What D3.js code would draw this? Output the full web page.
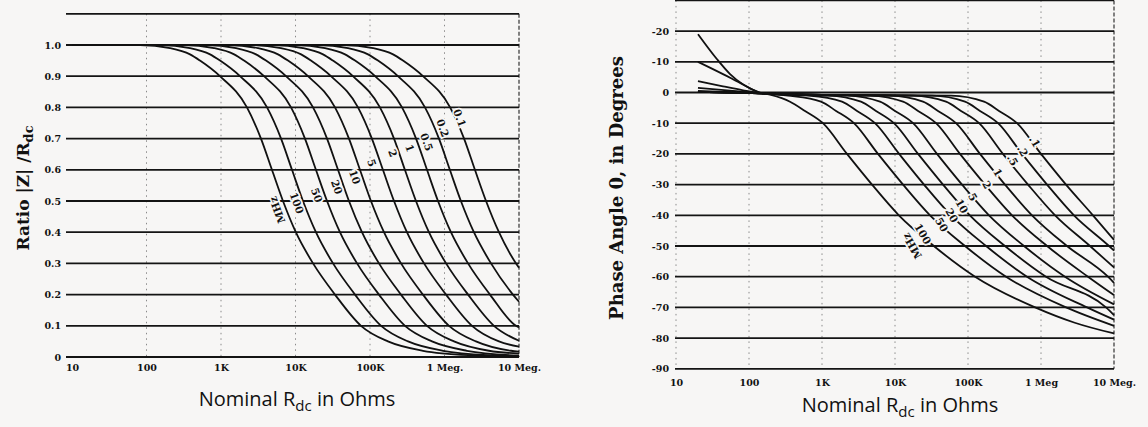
<!DOCTYPE html>
<html>
<head>
<meta charset="utf-8">
<script src="https://cdn.jsdelivr.net/npm/d3@7/dist/d3.min.js"></script>
<style>
  body { margin: 0; background: #f7f6f5; }
  svg { display: block; }
  .tick text { font-family: "DejaVu Serif", serif; font-weight: bold; font-size: 9.5px; fill: #111; }
</style>
</head>
<body>
<svg width="1148" height="427"></svg>
<script>
// ---- axis values ----
const decades = [10, 100, 1e3, 1e4, 1e5, 1e6, 1e7];
const xTickLabelsLeft = ["10", "100", "1K", "10K", "100K", "1 Meg.", "10 Meg."];
const xTickLabelsRight = ["10", "100", "1K", "10K", "100K", "1 Meg", "10 Meg."];
const ratioTicks = [0, 0.1, 0.2, 0.3, 0.4, 0.5, 0.6, 0.7, 0.8, 0.9, 1.0];
const ratioTickLabels = ["0", "0.1", "0.2", "0.3", "0.4", "0.5", "0.6", "0.7", "0.8", "0.9", "1.0"];
const ratioGrid = [0, 0.1, 0.2, 0.3, 0.4, 0.5, 0.6, 0.7, 0.8, 0.9, 1.0, 1.1];
const phaseTicks = [20, 10, 0, -10, -20, -30, -40, -50, -60, -70, -80, -90];
const phaseTickLabels = ["-20", "-10", "0", "-10", "-20", "-30", "-40", "-50", "-60", "-70", "-80", "-90"];
const phaseGrid = [30, 20, 10, 0, -10, -20, -30, -40, -50, -60, -70, -80, -90];

// ---- left chart: |Z|/Rdc vs Rdc, one curve per frequency (MHz) ----
const ratio100 = [[10,1],[82,1],[207,0.99],[384,0.97],[522,0.95],[968,0.9],[2230,0.8],[3440,0.7],[4830,0.6],[6790,0.5],[10100,0.4],[17200,0.3],[33900,0.2],[75700,0.1],[174000,0.05],[514000,0.02],[2410000,0.005],[1e7,0.001]];
const ratio50 = [[10,1],[152,1],[384,0.99],[713,0.97],[971,0.95],[1800,0.9],[4150,0.8],[6400,0.7],[8970,0.6],[12600,0.5],[18800,0.4],[31900,0.3],[63000,0.2],[141000,0.1],[324000,0.05],[955000,0.02],[4480000,0.005],[1e7,0.002]];
const ratio20 = [[10,1],[319,1],[805,0.99],[1500,0.97],[2040,0.95],[3780,0.9],[8710,0.8],[13400,0.7],[18800,0.6],[26500,0.5],[39500,0.4],[67000,0.3],[132000,0.2],[295000,0.1],[679000,0.05],[2000000,0.02],[1e7,0.004]];
const ratio10 = [[10,1],[630,1],[1590,0.99],[2950,0.97],[4020,0.95],[7450,0.9],[17200,0.8],[26500,0.7],[37200,0.6],[52200,0.5],[78000,0.4],[132000,0.3],[261000,0.2],[582000,0.1],[1340000,0.05],[3950000,0.02],[1e7,0.011]];
const ratio5 = [[10,1],[1240,1],[3130,0.99],[5820,0.97],[7930,0.95],[14700,0.9],[33900,0.8],[52200,0.7],[73300,0.6],[103000,0.5],[154000,0.4],[261000,0.3],[514000,0.2],[1150000,0.1],[2640000,0.05],[7800000,0.02],[1e7,0.017]];
const ratio2 = [[10,1],[2530,1],[6380,0.99],[11900,0.97],[16100,0.95],[29900,0.9],[69000,0.8],[106000,0.7],[149000,0.6],[210000,0.5],[313000,0.4],[531000,0.3],[1050000,0.2],[2340000,0.1],[5380000,0.05],[1e7,0.033]];
const ratio1 = [[10,1],[4990,1],[12600,0.99],[23400,0.97],[31800,0.95],[59000,0.9],[136000,0.8],[210000,0.7],[294000,0.6],[414000,0.5],[618000,0.4],[1050000,0.3],[2070000,0.2],[4610000,0.1],[1e7,0.052]];
const ratio05 = [[10,1],[9860,1],[24900,0.99],[46200,0.97],[63000,0.95],[117000,0.9],[269000,0.8],[415000,0.7],[582000,0.6],[818000,0.5],[1220000,0.4],[2070000,0.3],[4080000,0.2],[9120000,0.1],[1e7,0.095]];
const ratio02 = [[10,1],[20000,1],[50600,0.99],[94000,0.97],[128000,0.95],[237000,0.9],[547000,0.8],[843000,0.7],[1180000,0.6],[1660000,0.5],[2480000,0.4],[4210000,0.3],[8300000,0.2],[1e7,0.177]];
const ratio01 = [[10,1],[43500,1],[110000,0.99],[204000,0.97],[277000,0.95],[514000,0.9],[1190000,0.8],[1830000,0.7],[2560000,0.6],[3610000,0.5],[5380000,0.4],[9120000,0.3],[1e7,0.286]];
const ratioSeries = [ratio100, ratio50, ratio20, ratio10, ratio5, ratio2, ratio1, ratio05, ratio02, ratio01];

// curve labels on the left chart, [Rdc, ratio]
const leftLabels = ["0.1", "0.2", "0.5", "1", "2", "5", "10", "20", "50", "100", "MHz"];
const leftLabelAt = [[1.61e6,0.766],[9.55e5,0.734],[5.82e5,0.689],[3.44e5,0.67],[2.04e5,0.654],[1.06e5,0.622],[6.3e4,0.577],[3.6e4,0.545],[1.94e4,0.519],[1.05e4,0.494],[5.65e3,0.471]];

// ---- right chart: phase angle vs Rdc ----
const phase100 = [[20,19],[36,11],[55,6],[83,2.6],[140,0],[200,-0.8],[365,-3],[585,-6],[1030,-10],[2200,-20],[4840,-30],[11300,-40],[34000,-50],[125000,-60],[830000,-70],[2900000,-75],[1e7,-78.5]];
const phase50 = [[20,10],[44,6],[83,2.6],[150,-0.2],[342,-1],[968,-3],[1560,-6],[2740,-10],[5850,-20],[12900,-30],[30200,-40],[91000,-50],[332000,-60],[2200000,-70],[1e7,-76]];
const phase20 = [[20,3.7],[44,2],[83,0.7],[150,-0.3],[300,-0.7],[664,-1],[1880,-3],[3020,-6],[5320,-10],[11400,-20],[25000,-30],[58500,-40],[177000,-50],[643000,-60],[4270000,-70],[1e7,-74]];
const phase10 = [[20,1.5],[60,0.5],[150,-0.3],[400,-0.8],[1210,-1],[3420,-3],[5490,-6],[9680,-10],[20700,-20],[45500,-30],[106000,-40],[321000,-50],[1170000,-60],[7760000,-70],[1e7,-72.5]];
const phase5 = [[20,0.5],[150,-0.3],[500,-0.8],[2200,-1],[6240,-3],[10000,-6],[17700,-10],[37600,-20],[82800,-30],[194000,-40],[585000,-50],[2130000,-60],[1e7,-69]];
const phase2 = [[20,0.2],[150,-0.3],[1000,-0.8],[4550,-1],[12900,-3],[20700,-6],[36500,-10],[77600,-20],[171000,-30],[401000,-40],[1210000,-50],[4400000,-60],[1e7,-66]];
const phase1 = [[20,0.2],[150,-0.3],[1000,-0.8],[8550,-1],[24200,-3],[38800,-6],[68500,-10],[146000,-20],[321000,-30],[753000,-40],[2270000,-50],[8280000,-60],[1e7,-62]];
const phase05 = [[20,0.2],[150,-0.3],[1000,-0.8],[17700,-1],[50000,-3],[80200,-6],[142000,-10],[301000,-20],[664000,-30],[1560000,-40],[4690000,-50],[1e7,-57]];
const phase02 = [[20,0.2],[150,-0.3],[1000,-0.8],[32100,-1],[91000,-3],[146000,-6],[258000,-10],[550000,-20],[1210000,-30],[2830000,-40],[8550000,-50],[1e7,-51.5]];
const phase01 = [[20,0.2],[150,-0.3],[1000,-0.8],[58500,-1],[166000,-3],[266000,-6],[469000,-10],[1000000,-20],[2200000,-30],[5150000,-40],[1e7,-48]];
const phaseSeries = [phase100, phase50, phase20, phase10, phase5, phase2, phase1, phase05, phase02, phase01];

const rightLabels = [".1", ".2", ".5", "1", "2", "5", "10", "20", "50", "100", "MHz"];
const rightLabelAt = [[8.28e5,-16],[5.66e5,-19],[4.13e5,-22],[2.58e5,-26],[1.82e5,-30],[1.17e5,-34],[8.28e4,-37],[6.04e4,-40],[4.4e4,-43],[2.42e4,-46],[1.71e4,-50]];

const svg = d3.select("svg");
const bg = "#f7f6f5";

// scales
const xL = d3.scaleLog().domain([10, 1e7]).range([72, 519]);
const yL = d3.scaleLinear().domain([0, 1.1]).range([357, 13.8]);
const xR = d3.scaleLog().domain([10, 1e7]).range([676, 1114]);
const yR = d3.scaleLinear().domain([-90, 30]).range([368.8, 0.4]);

function drawPanel(opt) {
    const g = svg.append("g");

    // vertical dotted decade lines
    g.selectAll("line.vgrid")
        .data(opt.vlines)
        .enter()
        .append("line")
        .attr("x1", d => opt.x(d))
        .attr("x2", d => opt.x(d))
        .attr("y1", opt.y(opt.yTop))
        .attr("y2", opt.y(opt.yBottom))
        .style("stroke", "#8a8a8a")
        .style("stroke-width", 1)
        .style("stroke-dasharray", "1.5,4");

    // right border, dashed
    g.append("line")
        .attr("x1", opt.x(1e7)).attr("x2", opt.x(1e7))
        .attr("y1", opt.y(opt.yTop)).attr("y2", opt.y(opt.yBottom))
        .style("stroke", "#333")
        .style("stroke-width", 1.2)
        .style("stroke-dasharray", "4,2");

    // horizontal grid lines
    g.selectAll("line.hgrid")
        .data(opt.hgrid)
        .enter()
        .append("line")
        .attr("x1", opt.gridStart)
        .attr("x2", opt.x(1e7))
        .attr("y1", d => opt.y(d))
        .attr("y2", d => opt.y(d))
        .style("stroke", "#141414")
        .style("stroke-width", 1.8);

    // curves
    const line = d3.line()
        .x(d => opt.x(d[0]))
        .y(d => opt.y(d[1]))
        .curve(d3.curveMonotoneX);
    g.selectAll("path.curve")
        .data(opt.series)
        .enter()
        .append("path")
        .attr("d", line)
        .style("fill", "none")
        .style("stroke", "#111")
        .style("stroke-width", 1.8);

    // curve labels
    g.selectAll("text.flabel")
        .data(opt.labelAt)
        .enter()
        .append("text")
        .attr("transform", (d, i) => "translate(" + opt.x(d[0]) + "," + opt.y(d[1]) + ") rotate(" +
            (opt.labels[i] === "MHz" ? opt.rotUnit : opt.rot) + ")")
        .attr("text-anchor", "middle")
        .attr("dominant-baseline", "central")
        .style("font-family", "DejaVu Serif, serif")
        .style("font-weight", "bold")
        .style("font-size", "10.5px")
        .style("fill", "#111")
        .style("stroke", bg)
        .style("stroke-width", 3.5)
        .style("paint-order", "stroke")
        .text((d, i) => opt.labels[i]);

    // y tick labels
    const yAxis = d3.axisLeft(opt.y)
        .tickValues(opt.yTicks)
        .tickFormat((d, i) => opt.yTickLabels[i])
        .tickSize(0)
        .tickPadding(0);
    g.append("g")
        .attr("transform", "translate(" + opt.yLabelX + ",0)")
        .call(yAxis)
        .call(a => a.select(".domain").remove());

    // x tick labels
    const xAxis = d3.axisBottom(opt.x)
        .tickValues(decades)
        .tickFormat((d, i) => opt.xTickLabels[i])
        .tickSize(0)
        .tickPadding(0);
    g.append("g")
        .attr("transform", "translate(0," + opt.xLabelY + ")")
        .call(xAxis)
        .call(a => a.select(".domain").remove());

    // x title with subscript
    const xt = g.append("text")
        .attr("x", opt.xTitle[0])
        .attr("y", opt.xTitle[1])
        .attr("text-anchor", "middle")
        .style("font-family", "Open Sans, sans-serif")
        .style("font-size", "20px")
        .style("font-weight", 500)
        .style("fill", "#111");
    xt.append("tspan").text("Nominal R");
    xt.append("tspan").attr("dy", 5).style("font-size", "15px").text("dc");
    xt.append("tspan").attr("dy", -5).text(" in Ohms");

    // y title
    const yt = g.append("text")
        .attr("transform", "translate(" + opt.yTitle[0] + "," + opt.yTitle[1] + ") rotate(-90)")
        .attr("text-anchor", "middle")
        .style("font-family", "DejaVu Serif, serif")
        .style("font-weight", "bold")
        .style("font-size", opt.yTitleSize)
        .style("fill", "#111");
    opt.yTitleParts(yt);
}

drawPanel({
    x: xL, y: yL,
    yTop: 1.1, yBottom: 0,
    vlines: [100, 1e3, 1e4, 1e5, 1e6],
    hgrid: ratioGrid,
    gridStart: 66,
    series: ratioSeries,
    labels: leftLabels, labelAt: leftLabelAt, rot: 70, rotUnit: -110,
    yTicks: ratioTicks, yTickLabels: ratioTickLabels, yLabelX: 61,
    xTickLabels: xTickLabelsLeft, xLabelY: 364,
    xTitle: [297, 406],
    yTitle: [29, 188], yTitleSize: "17px",
    yTitleParts: t => {
        t.append("tspan").text("Ratio |Z| /R");
        t.append("tspan").attr("dy", 4).style("font-size", "13px").text("dc");
    }
});

drawPanel({
    x: xR, y: yR,
    yTop: 30, yBottom: -90,
    vlines: [10, 100, 1e3, 1e4, 1e5, 1e6],
    hgrid: phaseGrid,
    gridStart: 675,
    series: phaseSeries,
    labels: rightLabels, labelAt: rightLabelAt, rot: 60, rotUnit: -120,
    yTicks: phaseTicks, yTickLabels: phaseTickLabels, yLabelX: 669,
    xTickLabels: xTickLabelsRight, xLabelY: 379,
    xTitle: [900, 412],
    yTitle: [623, 188], yTitleSize: "18px",
    yTitleParts: t => {
        t.append("tspan").text("Phase Angle 0, in Degrees");
    }
});
</script>
</body>
</html>
